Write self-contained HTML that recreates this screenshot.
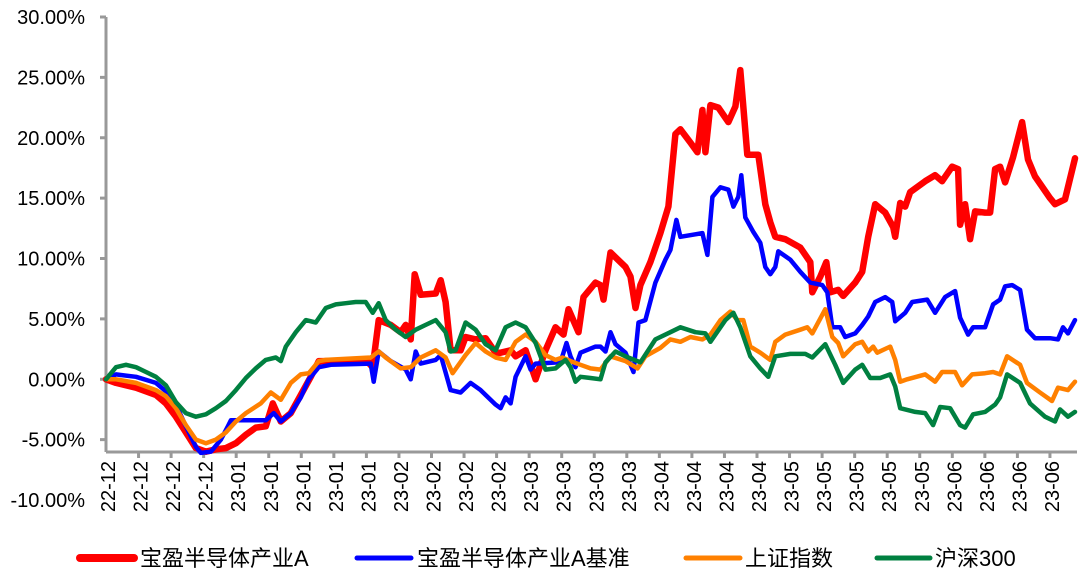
<!DOCTYPE html>
<html><head><meta charset="utf-8"><style>
html,body{margin:0;padding:0;background:#fff;}
svg{display:block;}
text{font-family:"Liberation Sans","Noto Sans CJK SC",sans-serif;fill:#000;}
</style></head><body>
<svg id="chart" width="1080" height="579" viewBox="0 0 1080 579" xmlns="http://www.w3.org/2000/svg">
<g id="grid"></g>
<g id="series"></g>
<g id="legend">
  <g>
    <line x1="80" y1="558" x2="134" y2="558" stroke="#ff0000" stroke-width="8" stroke-linecap="round"/>
    <text x="140" y="566" font-size="22">宝盈半导体产业A</text>
  </g>
  <g>
    <line x1="357" y1="558" x2="411" y2="558" stroke="#0000ff" stroke-width="5" stroke-linecap="round"/>
    <text x="417" y="566" font-size="22">宝盈半导体产业A基准</text>
  </g>
  <g>
    <line x1="686" y1="558" x2="740" y2="558" stroke="#ff8000" stroke-width="5" stroke-linecap="round"/>
    <text x="745" y="566" font-size="22">上证指数</text>
  </g>
  <g>
    <line x1="877" y1="558" x2="930" y2="558" stroke="#008040" stroke-width="5" stroke-linecap="round"/>
    <text x="935" y="566" font-size="22">沪深300</text>
  </g>
</g>
</svg>
<script>
const yTicks = [30, 25, 20, 15, 10, 5, 0, -5, -10];
const xLabels = ["22-12","22-12","22-12","22-12","23-01","23-01","23-01","23-01","23-01","23-02","23-02","23-02","23-02","23-03","23-03","23-03","23-03","23-04","23-04","23-04","23-04","23-05","23-05","23-05","23-05","23-05","23-06","23-06","23-06","23-06"];

const fundDays = [0,2,6,10,12,14,16,18,20,22,24,26,28,30,32,33.4,35,37,39,41,42.6,45,52,53.4,54.6,57,59,60,61,61.8,63,66,67,68,69,71,72,74,76,78,79,81,82,84,86,88,90,91.6,92.6,94.6,95.6,98,99,99.6,101,104,105,106,107,109,111,112.6,114,115,117,118.4,119.4,120,121,122.6,124.6,126,127,128.4,130.6,132,133,134,136,139,141,141.4,143,144.2,145,146.6,147.6,150,151.4,152.6,154,156,157.6,158,159,160,161,164,166,167.4,169.4,170.6,171,172,173,174,176,177,178,179,180,181.6,183.4,184.6,186,189,190,192,194];
const fundValues = [0,-0.3,-0.7,-1.3,-2.0,-3.1,-4.4,-5.7,-6.0,-5.8,-5.7,-5.3,-4.6,-4.0,-3.9,-2.0,-3.5,-2.8,-1.3,0.2,1.5,1.5,1.6,1.0,4.9,4.5,3.9,4.5,3.3,8.7,7.0,7.1,8.2,6.4,2.4,2.4,3.5,3.3,3.4,2.2,2.2,2.4,1.9,2.4,0,2.4,4.3,3.7,5.8,3.9,6.8,8.0,7.8,6.6,10.5,9.3,8.5,5.9,7.8,9.7,12.1,14.3,20.3,20.7,19.6,18.8,22.3,18.8,22.7,22.5,21.3,22.6,25.6,18.6,18.6,14.5,13.0,11.8,11.6,10.9,9.7,7.2,8.5,9.7,7.2,7.4,6.9,8.0,8.9,11.8,14.5,13.8,12.6,11.8,14.6,14.3,15.5,16.4,16.9,16.4,17.6,17.4,12.8,14.5,11.6,13.9,13.8,13.8,17.4,17.6,16.3,18.4,21.3,18.2,16.8,15.0,14.5,14.9,18.3];

const benchDays = [0,2,6,10,12,14,16,18,19,21,23,24.4,25,28,32,33.6,35,37,39,40.6,42.6,45,53,53.6,54.6,57,60,61,62,63,66,67,69,71,73,75,78,79,80,81,82,84,85,86,91,92.2,93,94,95,98,99,100,101,102,104,105.6,106.6,108,110,112,113,114.2,115,118,119.4,120.4,121.4,123,124.6,125.6,126.6,127.2,128,129.6,131,132,133,134,134.6,137,139,141,143.4,144.4,145.4,147,148,150,151.4,152.6,154,156,157.4,158,160,161.4,164.4,166,168,170,171,172.6,173.6,176,177.6,179,180,181.4,183,184.4,186,189,190.6,191.6,192.6,194];
const benchValues = [0,0.4,0.2,-0.3,-1.0,-2.1,-3.9,-5.6,-6.1,-6.0,-5.0,-3.9,-3.4,-3.4,-3.4,-2.8,-3.5,-2.8,-1.5,0,1.0,1.2,1.3,-0.2,2.3,1.5,0.8,0,2.3,1.3,1.6,2.0,-0.9,-1.1,-0.3,-0.9,-2.1,-2.4,-1.5,-2.0,0.2,1.9,0.8,1.3,1.4,3.0,1.9,1.0,2.2,2.7,2.7,2.3,3.9,2.9,2.2,0.6,4.7,4.9,8.0,9.9,10.7,13.2,11.8,12.0,12.1,10.3,15.1,15.9,15.7,14.3,15.1,16.9,13.4,12.2,11.3,9.3,8.7,9.3,10.6,9.9,8.9,8.0,7.8,7.2,4.3,4.3,3.5,3.8,4.5,5.2,6.4,6.8,6.4,4.8,5.5,6.4,6.6,5.5,6.8,7.3,5.1,3.7,4.3,4.3,6.2,6.6,7.7,7.8,7.4,4.1,3.4,3.4,3.3,4.3,3.8,4.9];

const sseDays = [0,2,6,10,12,14,16,18,20,22,24,26,28,31,33,35,37,39,40.6,42.6,44,53,54.6,56,59,61,63,66,68,69.4,72,74,76,78,80,82,84,86,88,90,91.4,93,95,97,99,101,104,106.4,108,111,113,115,117,119.4,121,123,125,126.4,127.6,129,131,133,134,136,139,140.4,141.4,144,145.4,146.6,147.6,150,151.4,152.6,153.6,154.4,157,158,159,160.4,164,166,167.4,170,171.4,173.4,176,177.6,179,180.4,183,184.4,187,189.4,190.6,192.6,194];
const sseValues = [0,0,-0.3,-0.9,-1.4,-2.4,-3.8,-5.0,-5.3,-5.0,-4.4,-3.5,-2.8,-2.0,-1.1,-1.7,-0.3,0.4,0.5,1.5,1.6,1.8,2.3,1.8,0.9,1.0,1.8,2.4,1.8,0.5,2.0,3.0,2.3,1.8,1.6,3.1,3.7,3.1,2.0,1.6,1.8,1.5,1.2,0.9,0.8,1.9,1.5,0.9,1.9,2.6,3.3,3.1,3.5,3.3,3.7,4.9,5.6,4.9,4.9,2.7,2.2,1.6,3.1,3.7,4.1,4.3,3.8,5.8,3.5,3.0,1.9,2.9,3.1,2.3,2.7,2.2,2.7,1.6,-0.2,0,0.4,-0.2,0.6,0.6,-0.5,0.4,0.5,0.6,0.4,1.9,1.2,-0.3,-1.1,-1.8,-0.7,-0.9,-0.2];

const csiDays = [0,2,4,6,8,10,12,14,16,18,20,22,24,26,28,30,32,34,35,36,38,40,42,44,46,48,50,52,53.4,54.6,56,58,60,62,64,66,68,69,70,72,74,76,78,80,82,84,86,88,90,92,93,94,95,97,99,100,102,104,107,110,113,115,118,120,121,124,125.6,127,129,131,132.6,134,137,140,141.4,144,146,147.6,150,151.4,153,155,157,158,159,162,164,165.6,167,169,171,172,173.6,176,178,179,180.4,183,185,188,190,191,192.6,194];
const csiValues = [0,1.0,1.2,1.0,0.6,0.2,-0.5,-1.9,-2.8,-3.1,-2.9,-2.4,-1.8,-0.9,0.1,0.9,1.6,1.8,1.5,2.7,3.9,4.9,4.7,5.9,6.2,6.3,6.4,6.4,5.5,6.3,4.9,4.1,3.5,4.1,4.5,4.9,3.9,2.3,2.4,4.7,4.1,2.9,2.4,4.3,4.7,4.3,3.0,0.8,0.9,1.6,1.0,-0.2,0.2,0.1,0,1.4,2.3,1.9,1.4,3.3,3.9,4.3,3.9,3.8,3.1,4.9,5.5,4.3,1.9,0.9,0.2,1.9,2.1,2.1,1.8,2.9,1.2,-0.3,0.8,1.2,0.1,0.1,0.4,-0.6,-2.4,-2.7,-2.8,-3.8,-2.3,-2.4,-3.8,-4.0,-2.9,-2.7,-2.1,-1.5,0.4,-0.3,-2.0,-3.1,-3.5,-2.5,-3.1,-2.7];

const NS = "http://www.w3.org/2000/svg";
const X0 = 106, X1 = 1075, DMAX = 194;
const Y_TOP = 17, Y_BOT = 500;
function xScale(d){ return X0 + (d / DMAX) * (X1 - X0); }
function yScale(v){ return Y_BOT - (v - (-10)) / 40 * (Y_BOT - Y_TOP); }
function mk(tag, attrs, parent){
  const el = document.createElementNS(NS, tag);
  for (const k in attrs) el.setAttribute(k, attrs[k]);
  parent.appendChild(el);
  return el;
}
const grid = document.getElementById("grid");
const AXIS_Y = 452;
// y axis
const yAxis = mk("line", {x1:X0, y1:Y_TOP, x2:X0, y2:AXIS_Y, stroke:"#999", "stroke-width":3}, grid);


yTicks.forEach(function(t){
  const y = yScale(t);
  if (y <= AXIS_Y) {
    const tk = mk("line", {x1:X0-6, y1:y, x2:X0, y2:y, stroke:"#999", "stroke-width":3}, grid);
    
    
  }
  const lb = mk("text", {x:85, y:y+7, "font-size":20, "text-anchor":"end"}, grid);
  lb.textContent = t.toFixed(2) + "%";
  
  
});
// x axis
const xAxis = mk("line", {x1:X0, y1:AXIS_Y, x2:X1+2, y2:AXIS_Y, stroke:"#999", "stroke-width":3}, grid);


const step = 32.55;
xLabels.forEach(function(lab, i){
  const x = 106 + i * step;
  if (i > 0) {
    const tk = mk("line", {x1:x, y1:AXIS_Y, x2:x, y2:AXIS_Y+6, stroke:"#999", "stroke-width":3}, grid);
    
    
  }
  const tx = x + 2, ty = 461;
  const lb = mk("text", {x:tx, y:ty, "font-size":20, "text-anchor":"end", transform:"rotate(-90 "+tx+" "+ty+") translate(0 7)"}, grid);
  lb.textContent = lab;
  
  
});
const seriesG = document.getElementById("series");
function drawLine(days, vals, color, w, name){
  let d = "";
  for (let i = 0; i < days.length && i < vals.length; i++){
    d += (i ? "L" : "M") + xScale(days[i]).toFixed(1) + " " + yScale(vals[i]).toFixed(1);
  }
  const p = mk("path", {d:d, fill:"none", stroke:color, "stroke-width":w, "stroke-linejoin":"round", "stroke-linecap":"round"}, seriesG);
  
  
}
drawLine(fundDays, fundValues, "#ff0000", 6.5, "line-fund");
drawLine(benchDays, benchValues, "#0000ff", 4.5, "line-benchmark");
drawLine(sseDays, sseValues, "#ff8000", 4.5, "line-sse-index");
drawLine(csiDays, csiValues, "#008040", 4.5, "line-csi300");
</script>
</body></html>
